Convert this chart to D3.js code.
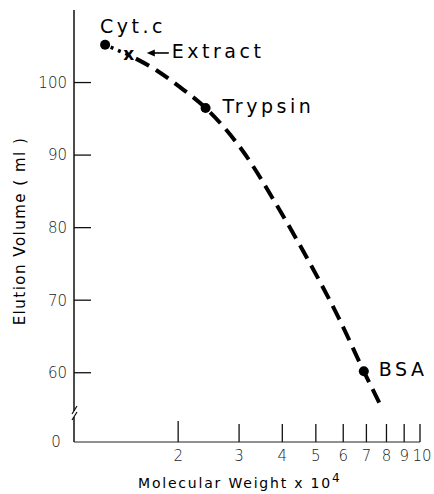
<!DOCTYPE html>
<html>
<head>
<meta charset="utf-8">
<script src="https://cdn.jsdelivr.net/npm/d3@7"></script>
<style>
  body { margin: 0; background: #fff; }
  svg { display: block; }
  .tick-label { font-family: "DejaVu Sans", sans-serif; font-weight: 300; font-size: 15px; fill: #222; }
  .mark-label { font-family: "DejaVu Sans", sans-serif; font-size: 19px; fill: #000; letter-spacing: 3.5px; }
  .axis-title { font-family: "DejaVu Sans", sans-serif; font-size: 14px; fill: #000; letter-spacing: 1.8px; }
</style>
</head>
<body>
<svg id="chart" width="434" height="494"></svg>
<script>
// standards (MW x 10^4, elution volume ml)
var standards = ["Cyt.c", "Trypsin", "BSA"];
var stdWeight = [1.23, 2.4, 6.88];
var stdVolume = [105.2, 96.5, 60.2];

// the extract sample
var extractWeight = 1.44;
var extractVolume = 103.8;

// calibration curve
var curveWeight = [1.23, 1.44, 1.73, 2.02, 2.4, 3.06, 3.91, 4.78, 5.83, 6.88, 7.64];
var curveVolume = [105.2, 103.8, 101.7, 99.4, 96.5, 90.7, 82.6, 75.3, 67.5, 60.2, 55.8];

var yTicks = [60, 70, 80, 90, 100];
var xTicks = [2, 3, 4, 5, 6, 7, 8, 9, 10];

var svg = d3.select("#chart");

var x = d3.scaleLog().domain([1, 10]).range([74, 420]);
var y = d3.scaleLinear().domain([55, 110]).range([409, 10]);
var baseY = 442; // the broken-off zero line

// y axis (broken near the bottom)
svg.append("line")
    .attr("x1", x(1)).attr("x2", x(1))
    .attr("y1", y(110)).attr("y2", 411)
    .attr("stroke", "#111").attr("stroke-width", 1.5);
svg.append("line")
    .attr("x1", x(1)).attr("x2", x(1))
    .attr("y1", 417).attr("y2", baseY)
    .attr("stroke", "#111").attr("stroke-width", 1.5);
// break marks
svg.append("line")
    .attr("x1", x(1) - 2).attr("y1", 414)
    .attr("x2", x(1) + 3).attr("y2", 406)
    .attr("stroke", "#111").attr("stroke-width", 1.2);
svg.append("line")
    .attr("x1", x(1) - 2).attr("y1", 420)
    .attr("x2", x(1) + 3).attr("y2", 412)
    .attr("stroke", "#111").attr("stroke-width", 1.2);

var yAxis = svg.append("g");
yAxis.selectAll("line")
    .data(yTicks)
  .enter().append("line")
    .attr("x1", x(1)).attr("x2", x(1) + 17)
    .attr("y1", function(d) { return y(d); })
    .attr("y2", function(d) { return y(d); })
    .attr("stroke", "#111").attr("stroke-width", 1.3);
yAxis.selectAll("text")
    .data(yTicks)
  .enter().append("text")
    .attr("class", "tick-label")
    .attr("x", 67)
    .attr("y", function(d) { return y(d); })
    .attr("dy", "0.36em")
    .attr("text-anchor", "end")
    .text(function(d) { return d; });

svg.append("text")
    .attr("class", "tick-label")
    .attr("x", 56)
    .attr("y", baseY)
    .attr("dy", "0.36em")
    .attr("text-anchor", "middle")
    .text("0");

// x axis
svg.append("line")
    .attr("x1", x(1)).attr("x2", x(10))
    .attr("y1", baseY).attr("y2", baseY)
    .attr("stroke", "#222").attr("stroke-width", 1.2);

var xAxis = svg.append("g");
xAxis.selectAll("line")
    .data(xTicks)
  .enter().append("line")
    .attr("x1", function(d) { return x(d); })
    .attr("x2", function(d) { return x(d); })
    .attr("y1", baseY)
    .attr("y2", function(d) { return d === 2 ? baseY - 21 : baseY - 18; })
    .attr("stroke", "#111").attr("stroke-width", 1.3);
xAxis.selectAll("text")
    .data(xTicks)
  .enter().append("text")
    .attr("class", "tick-label")
    .attr("x", function(d) { return x(d) + (d === 10 ? 2 : 0); })
    .attr("y", 461)
    .attr("text-anchor", "middle")
    .text(function(d) { return d; });

// axis titles
var xt = svg.append("text")
    .attr("class", "axis-title")
    .attr("x", 138)
    .attr("y", 488);
xt.append("tspan").text("Molecular Weight x 10");
xt.append("tspan").attr("dy", -6).attr("font-size", 12).text("4");

svg.append("text")
    .attr("class", "axis-title")
    .attr("transform", "translate(25,231) rotate(-90)")
    .attr("text-anchor", "middle")
    .style("font-size", "15px")
    .style("letter-spacing", "1.5px")
    .text("Elution Volume ( ml )");

// calibration curve
var curve = curveWeight.map(function(w, i) { return [w, curveVolume[i]]; });
var line = d3.line()
    .x(function(d) { return x(d[0]); })
    .y(function(d) { return y(d[1]); })
    .curve(d3.curveMonotoneX);

svg.append("path")
    .datum(curve.slice(0, 2))
    .attr("d", line)
    .attr("fill", "none")
    .attr("stroke", "#000")
    .attr("stroke-width", 3.5)
    .attr("stroke-dasharray", "3,5")
    .attr("stroke-dashoffset", -6);

svg.append("path")
    .datum(curve.slice(1))
    .attr("d", line)
    .attr("fill", "none")
    .attr("stroke", "#000")
    .attr("stroke-width", 4)
    .attr("stroke-dasharray", "15,8")
    .attr("stroke-dashoffset", -8);

// standards
var labelOffset = [[-5, -12], [17, 5], [15, 5]];
svg.selectAll(".std")
    .data(standards)
  .enter().append("circle")
    .attr("class", "std")
    .attr("cx", function(d, i) { return x(stdWeight[i]); })
    .attr("cy", function(d, i) { return y(stdVolume[i]); })
    .attr("r", 5)
    .attr("fill", "#000");
svg.selectAll(".std-label")
    .data(standards)
  .enter().append("text")
    .attr("class", "mark-label")
    .attr("x", function(d, i) { return x(stdWeight[i]) + labelOffset[i][0]; })
    .attr("y", function(d, i) { return y(stdVolume[i]) + labelOffset[i][1]; })
    .text(function(d) { return d; });

// extract marker + arrow label
var ex = x(extractWeight), ey = y(extractVolume);
svg.append("text")
    .attr("x", ex)
    .attr("y", ey)
    .attr("dy", "0.3em")
    .attr("text-anchor", "middle")
    .style("font-family", "DejaVu Sans, sans-serif")
    .style("font-size", "17px")
    .style("font-weight", "bold")
    .text("x");

svg.append("line")
    .attr("x1", ex + 22).attr("x2", ex + 40)
    .attr("y1", ey - 2).attr("y2", ey - 2)
    .attr("stroke", "#000").attr("stroke-width", 1.6);
svg.append("path")
    .attr("d", "M" + (ex + 18) + "," + (ey - 2) + "l8,-3.5v7z")
    .attr("fill", "#000");
svg.append("text")
    .attr("class", "mark-label")
    .attr("x", ex + 43)
    .attr("y", ey + 3)
    .text("Extract");
</script>
</body>
</html>
